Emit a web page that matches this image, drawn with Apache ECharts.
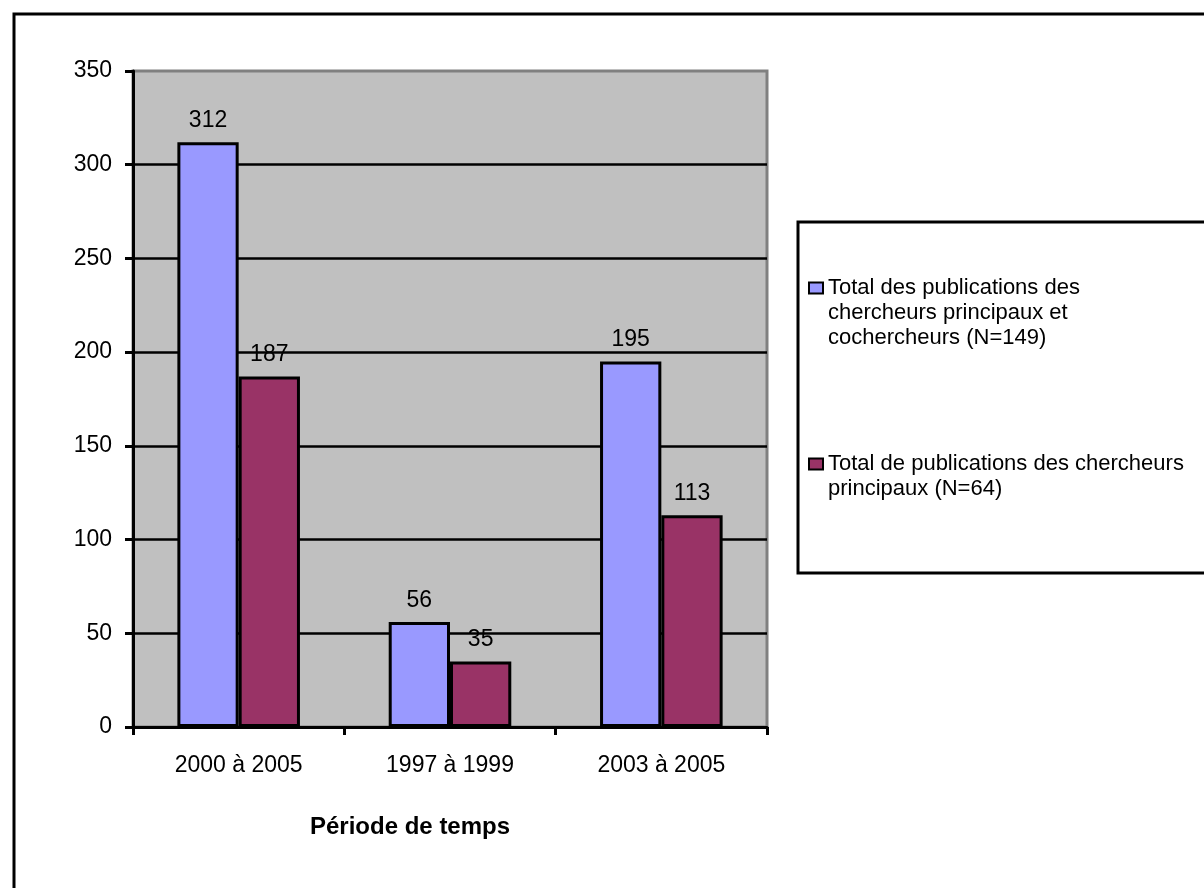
<!DOCTYPE html>
<html>
<head>
<meta charset="utf-8">
<script src="https://cdn.jsdelivr.net/npm/echarts@6/dist/echarts.min.js"></script>
<style>
  html, body { margin: 0; padding: 0; background: #fff; }
  #chart { width: 1204px; height: 888px; }
</style>
</head>
<body>
<div id="chart"></div>
<script>
// Periods and publication totals
const categories = ['2000 à 2005', '1997 à 1999', '2003 à 2005'];
const seriesNames = [
  'Total des publications des chercheurs principaux et cochercheurs (N=149)',
  'Total de publications des chercheurs principaux (N=64)'
];
const legendLines = [
  ['Total des publications des', 'chercheurs principaux et', 'cochercheurs (N=149)'],
  ['Total de publications des chercheurs', 'principaux (N=64)']
];
const allResearchers = [312, 56, 195];
const principalResearchers = [187, 35, 113];
const yTicks = { min: 0, max: 350, interval: 50 };
const axisTitle = 'Période de temps';

const FONT = 'Liberation Sans, Arial, sans-serif';
const colors = ['#9999FF', '#993366'];

// Blank lines are prepended so the legend marker lines up with the first text line
function legendText(lines) {
  return '\n'.repeat(lines.length - 1) + lines.join('\n');
}

function legendFor(idx, top) {
  return {
    data: [seriesNames[idx]],
    left: 808,
    top: top,
    padding: 0,
    orient: 'vertical',
    icon: 'rect',
    itemWidth: 14,
    itemHeight: 11,
    itemStyle: { borderColor: '#000', borderWidth: 2 },
    selectedMode: false,
    textStyle: { fontFamily: FONT, fontSize: 22, color: '#000', lineHeight: 25 },
    formatter: () => legendText(legendLines[idx])
  };
}

const chart = echarts.init(document.getElementById('chart'), null, { renderer: 'canvas' });

const labelStyle = {
  show: true,
  position: 'top',
  distance: 10,
  fontFamily: FONT,
  fontSize: 23,
  color: '#000'
};

chart.setOption({
  backgroundColor: '#fff',
  animation: false,
  graphic: [
    {
      type: 'rect',
      z: -10,
      shape: { x: 14, y: 14, width: 1220, height: 900 },
      style: { fill: '#fff', stroke: '#000', lineWidth: 3 }
    },
    {
      type: 'rect',
      z: -5,
      shape: { x: 798, y: 222, width: 420, height: 351 },
      style: { fill: '#fff', stroke: '#000', lineWidth: 3 }
    }
  ],
  title: {
    text: axisTitle,
    left: 310,
    top: 815,
    padding: 0,
    textStyle: { fontFamily: FONT, fontSize: 24, fontWeight: 'bold', color: '#000' }
  },
  legend: [legendFor(0, 225.5), legendFor(1, 426.5)],
  grid: {
    left: 133,
    top: 71,
    right: 437,
    bottom: 161,
    show: true,
    backgroundColor: '#C0C0C0',
    borderColor: '#808080',
    borderWidth: 3,
    containLabel: false
  },
  xAxis: {
    type: 'category',
    data: categories,
    axisLine: { show: true, lineStyle: { color: '#000', width: 3 } },
    axisTick: { show: true, length: 8, lineStyle: { color: '#000', width: 3 } },
    axisLabel: { margin: 27, fontFamily: FONT, fontSize: 23, color: '#000' },
    splitLine: { show: false }
  },
  yAxis: {
    type: 'value',
    min: yTicks.min,
    max: yTicks.max,
    interval: yTicks.interval,
    axisLine: { show: true, lineStyle: { color: '#000', width: 3 } },
    axisTick: { show: true, length: 8, lineStyle: { color: '#000', width: 3 } },
    axisLabel: { margin: 21, fontFamily: FONT, fontSize: 23, color: '#000' },
    splitLine: {
      show: true,
      showMinLine: false,
      showMaxLine: false,
      lineStyle: { color: '#000', width: 2.5 }
    }
  },
  series: [
    {
      name: seriesNames[0],
      type: 'bar',
      data: allResearchers,
      barGap: '0%',
      barCategoryGap: '42%',
      itemStyle: { color: colors[0], borderColor: '#000', borderWidth: 3 },
      label: labelStyle
    },
    {
      name: seriesNames[1],
      type: 'bar',
      data: principalResearchers,
      barGap: '0%',
      barCategoryGap: '42%',
      itemStyle: { color: colors[1], borderColor: '#000', borderWidth: 3 },
      label: labelStyle
    }
  ]
});
</script>
</body>
</html>
